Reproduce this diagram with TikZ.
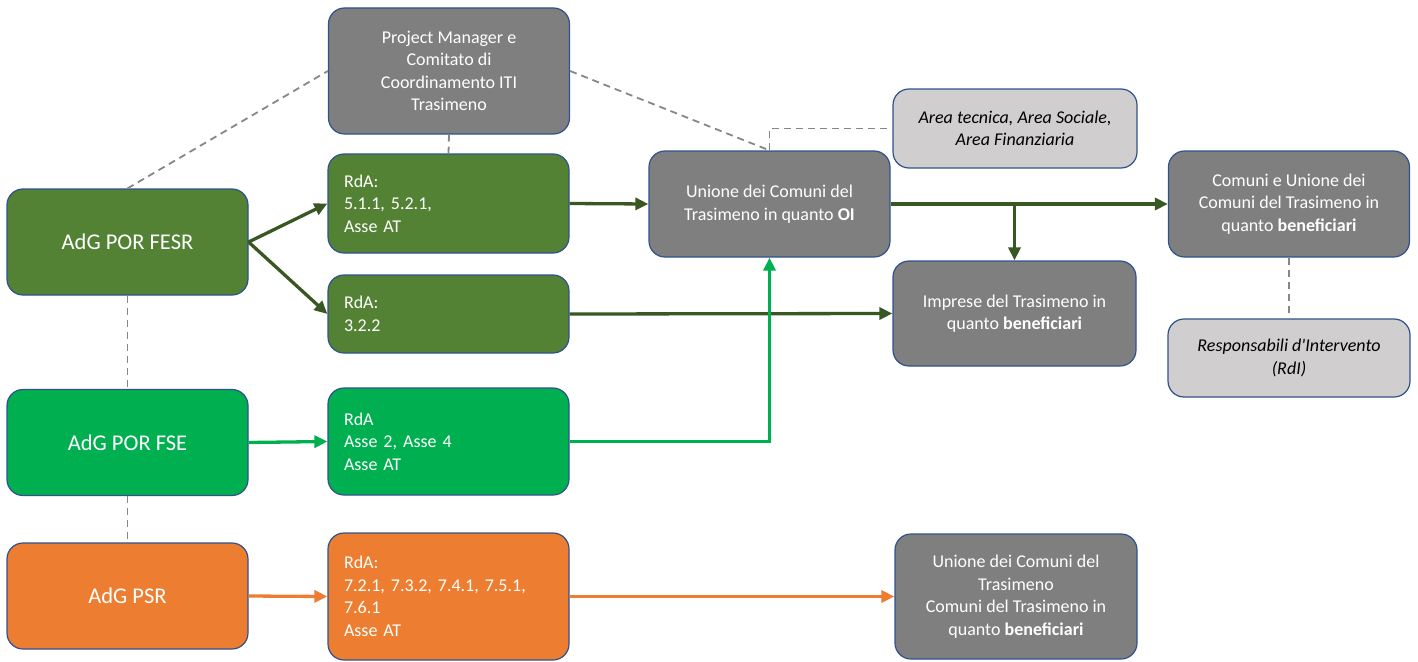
\documentclass[tikz,border=0pt]{standalone}
\usepackage{fontspec}
\setmainfont{Carlito}
\usepackage{tikz}
\usetikzlibrary{arrows.meta}
\definecolor{verdescuro}{RGB}{84,130,53}
\definecolor{verdefreccia}{RGB}{56,87,35}
\definecolor{verdechiaro}{RGB}{0,176,80}
\definecolor{arancio}{RGB}{237,125,49}
\definecolor{grigio}{RGB}{127,127,127}
\definecolor{grigiochiaro}{RGB}{208,206,206}
\definecolor{bordo}{RGB}{47,82,143}
\definecolor{tratto}{RGB}{135,135,135}
\tikzset{every picture/.style={line width=0.75pt}}
\tikzset{
  box/.style={draw=bordo, line width=1.2pt, rounded corners=16pt, text=white,
    align=center, minimum width=241pt, inner sep=4pt, font=\fontsize{18}{22.5}\selectfont},
  adgbox/.style={box, minimum height=106pt, font=\fontsize{22.5}{27}\selectfont},
  rdabox/.style={box, align=left, inner xsep=16pt, inner ysep=4pt, text width=209pt},
  notabox/.style={box, fill=grigiochiaro, text=black, font=\fontsize{18}{22.5}\selectfont\itshape},
  tratteggio/.style={draw=tratto, line width=1.8pt, dash pattern=on 7pt off 5pt},
  freccia/.style={line width=3.3pt, -{Triangle[length=13pt,width=12pt]}}
}

\begin{document}
\begin{tikzpicture}[x=1pt,y=1pt,yscale=-1]
\useasboundingbox (0,0) rectangle (1418,661);

% autorita di gestione
\node [adgbox, fill=verdescuro] (fesr) at (127.5,242) {AdG POR FESR};
\node [adgbox, fill=verdechiaro] (fse) at (127.5,442.5) {AdG POR FSE};
\node [adgbox, fill=arancio] (psr) at (127.5,596) {AdG PSR};

% project manager
\node [box, fill=grigio, minimum height=126pt] (pm) at (449,71) {Project Manager e\\Comitato di\\Coordinamento ITI\\Trasimeno};

% responsabili di azione
\node [rdabox, fill=verdescuro, minimum height=99pt] (rda1) at (448.5,203.5) {RdA:\\5.1.1, 5.2.1,\\Asse AT};
\node [rdabox, fill=verdescuro, minimum height=78pt] (rda2) at (448.5,314) {RdA:\\3.2.2\\[4pt]};
\node [rdabox, fill=verdechiaro, minimum height=107pt] (rda3) at (448.5,441.5) {RdA\\Asse 2, Asse 4\\Asse AT\\[4pt]};
\node [rdabox, fill=arancio, minimum height=127pt] (rda4) at (448.5,596.5) {RdA:\\7.2.1, 7.3.2, 7.4.1, 7.5.1,\\7.6.1\\Asse AT};

% organismo intermedio e beneficiari
\node [box, fill=grigio, minimum height=106pt] (oi) at (769.5,204) {Unione dei Comuni del\\Trasimeno in quanto \textbf{OI}};
\node [notabox, minimum height=79pt, minimum width=244pt] (aree) at (1015,128.5) {Area tecnica, Area Sociale,\\Area Finanziaria};
\node [box, fill=grigio, minimum height=106pt] (comuni) at (1289,204) {Comuni e Unione dei\\Comuni del Trasimeno in\\quanto \textbf{beneficiari}};
\node [box, fill=grigio, minimum height=105pt, minimum width=243pt] (imprese) at (1014.5,313.5) {Imprese del Trasimeno in\\quanto \textbf{beneficiari}};
\node [notabox, minimum height=78pt, minimum width=242pt] (rdi) at (1289,358) {Responsabili d\textquotesingle Intervento\\(RdI)};
\node [box, fill=grigio, minimum height=125pt, minimum width=242pt] (unione) at (1016,596.5) {Unione dei Comuni del\\Trasimeno\\Comuni del Trasimeno in\\quanto \textbf{beneficiari}};

% linee di coordinamento
\draw [tratteggio] (fesr.north) -- (pm.west);
\draw [tratteggio] (pm.south) -- (rda1.north);
\draw [tratteggio] (pm.east) -- (oi.north);
\draw [tratteggio] (oi.north) |- (aree.west);
\draw [tratteggio] (fesr.south) -- (fse.north);
\draw [tratteggio] (fse.south) -- (psr.north);
\draw [tratteggio] (comuni.south) -- (rdi.north);

% flussi
\draw [freccia, verdefreccia] (fesr.east) -- (rda1.west);
\draw [freccia, verdefreccia] (fesr.east) -- (rda2.west);
\draw [freccia, verdefreccia] (rda1.east) -- (oi.west);
\draw [freccia, verdefreccia] (oi.east) -- (comuni.west);
\draw [freccia, verdefreccia] (imprese.north |- oi.east) -- (imprese.north);
\draw [freccia, verdefreccia] (rda2.east) -- (imprese.west);
\draw [freccia, verdechiaro] (fse.east) -- (rda3.west);
\draw [freccia, verdechiaro] (rda3.east) -| (oi.south);
\draw [freccia, arancio] (psr.east) -- (rda4.west);
\draw [freccia, arancio] (rda4.east) -- (unione.west);
\end{tikzpicture}
\end{document}
